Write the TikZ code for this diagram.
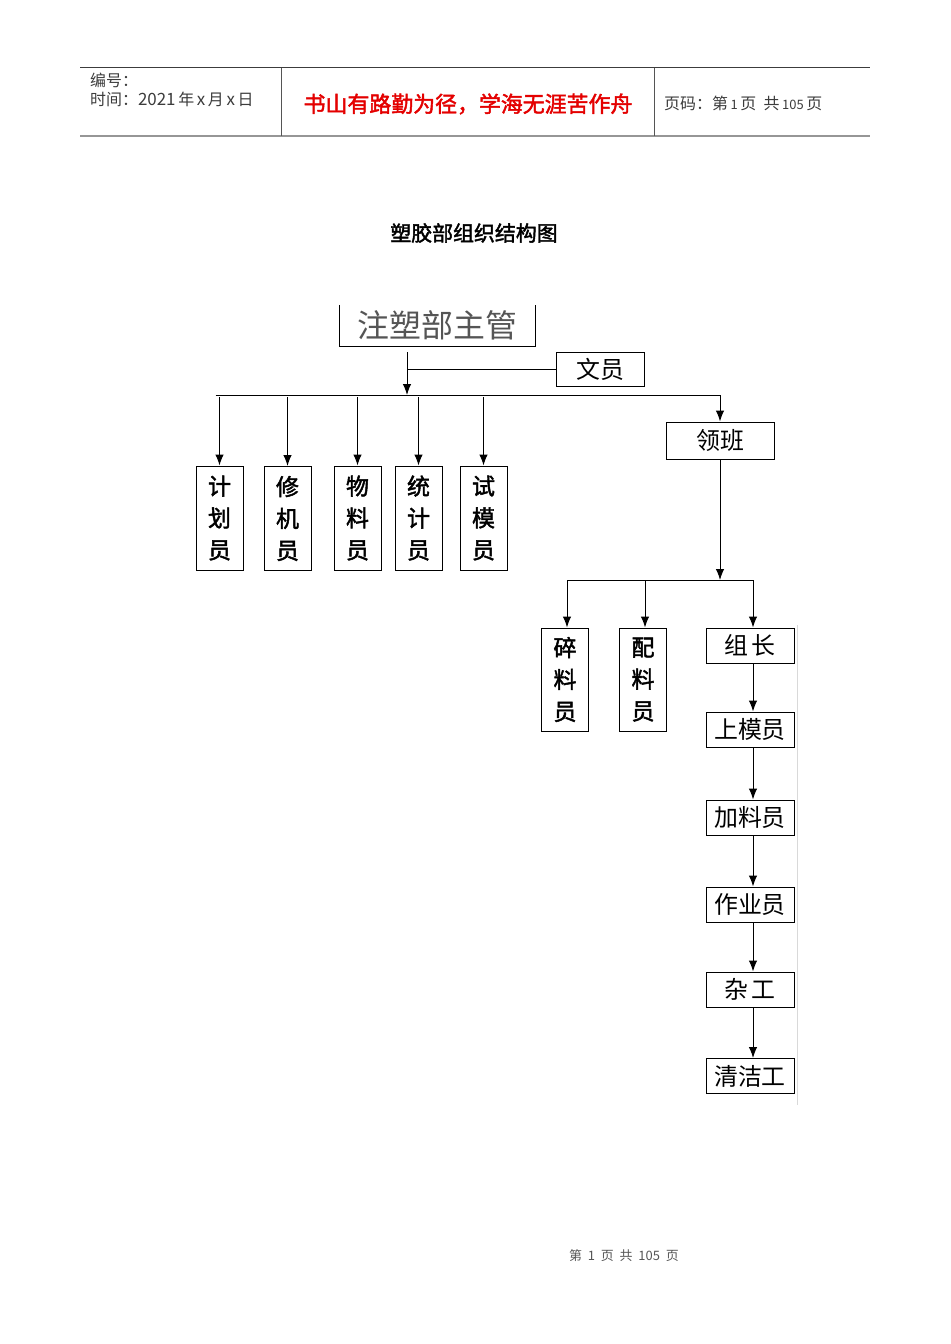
\documentclass[tikz,border=0pt]{standalone}
\usepackage{fontspec}
\setmainfont{Liberation Sans}
\newfontfamily\cjk[AutoFakeBold=2]{Noto Sans CJK SC}
\usetikzlibrary{arrows.meta,positioning}

\definecolor{hdrgray}{RGB}{60,60,60}
\definecolor{rulegray}{RGB}{150,150,150}
\definecolor{mottored}{RGB}{228,0,0}
\definecolor{headgray}{RGB}{85,85,85}

\tikzset{
	box/.style={draw,line width=1bp,inner sep=0pt,font=\cjk\fontsize{24}{26}\selectfont},
	vbox/.style={box,minimum width=47bp,minimum height=104bp,align=center,
		font=\cjk\bfseries\fontsize{23}{32}\selectfont},
	hbox/.style={box,minimum width=88bp,minimum height=35bp},
	arr/.style={-{Latex[length=11bp,width=8.5bp]},line width=1bp},
	hdr/.style={inner sep=0pt,text=hdrgray,font=\cjk\fontsize{16}{19}\selectfont},
}

\begin{document}
\begin{tikzpicture}[x=1bp,y=-1bp]
	\useasboundingbox[fill=white] (0,0) rectangle (950,1344);

	% header
	\draw[line width=1bp,hdrgray] (80,68) -- (870,68);
	\draw[line width=2bp,rulegray] (80,136) -- (870,136);
	\draw[line width=0.8bp,headgray] (281,68) -- (281,136);
	\draw[line width=0.8bp,headgray] (654,68) -- (654,136);
	\node[hdr,anchor=west] (bianhao) at (90,80) {编号：};
	\node[hdr,anchor=west] (shijian) at (90,99) {时间：{\fontsize{17}{19}\selectfont 2021}\,年\,{\fontsize{17}{19}\selectfont x}\,月\,{\fontsize{17}{19}\selectfont x}\,日};
	\node[inner sep=0pt,text=mottored,font=\cjk\bfseries\fontsize{22}{24}\selectfont] (motto) at (468,104) {书山有路勤为径，学海无涯苦作舟};
	\node[hdr,anchor=west] (yema) at (664,103) {页码：第\,{\fontsize{13}{14}\selectfont 1}\,页\ \ 共\,{\fontsize{13}{14}\selectfont 105}\,页};

	% title
	\node[inner sep=0pt,font=\cjk\bfseries\fontsize{21}{24}\selectfont] (title) at (474,233) {塑胶部组织结构图};

	% top level
	\node[inner sep=0pt,minimum width=195bp,minimum height=41bp,text=headgray,
		font=\cjk\fontsize{32}{34}\selectfont] (zhuguan) at (437.5,325.5) {注塑部主管};
	\draw[line width=1bp] (zhuguan.north west) -- (zhuguan.south west) -- (zhuguan.south east) -- (zhuguan.north east);
	\node[box,minimum width=88bp,minimum height=34bp] (wenyuan) at (600,369) {文员};
	\node[box,minimum width=108bp,minimum height=37bp] (lingban) at (720,440.5) {领班};

	% staff under the head
	\node[vbox] (jihua) at (219.5,518) {计\\划\\员};
	\node[vbox] (xiuji) at (287.5,518.5) {修\\机\\员};
	\node[vbox] (wuliao) at (357.5,518) {物\\料\\员};
	\node[vbox] (tongji) at (418.5,518) {统\\计\\员};
	\node[vbox] (shimo) at (483.5,518) {试\\模\\员};

	% staff under the foreman
	\node[vbox,minimum height=103bp] (suiliao) at (565,679.5) {碎\\料\\员};
	\node[vbox,minimum height=103bp] (peiliao) at (643,679.5) {配\\料\\员};
	\node[hbox] (zuzhang) at (750,645.5) {组\,长};
	\node[hbox] (shangmo) at (750,729.5) {上模员};
	\node[hbox] (jialiao) at (750,817.5) {加料员};
	\node[hbox] (zuoye) at (750,904.5) {作业员};
	\node[hbox] (zagong) at (750,989.5) {杂\,工};
	\node[hbox] (qingjie) at (750,1076) {清洁工};

	% connectors
	\coordinate (drop) at (407,352);
	\coordinate (bus1) at (407,395);
	\coordinate (bus2) at (720,580);
	\draw[line width=1bp] (wenyuan.west) -- (drop |- wenyuan.west);
	\draw[arr] (drop) -- (bus1);
	\draw[line width=1bp] ([xshift=-4bp]jihua.north |- bus1) -- (lingban.north |- bus1);
	\draw[arr] (lingban.north |- bus1) -- (lingban.north);
	\foreach \n in {jihua,xiuji,wuliao,tongji,shimo}
		\draw[arr] ([yshift=-2bp]\n.north |- bus1) -- (\n.north);
	\draw[arr] (lingban.south) -- (bus2);
	\draw[line width=1bp] ([xshift=2bp]suiliao.north |- bus2) -- ([xshift=3bp]zuzhang.north |- bus2);
	\draw[arr] ([xshift=2bp]suiliao.north |- bus2) -- ([xshift=2bp]suiliao.north);
	\draw[arr] ([xshift=2bp]peiliao.north |- bus2) -- ([xshift=2bp]peiliao.north);
	\draw[arr] ([xshift=3bp]zuzhang.north |- bus2) -- ([xshift=3bp]zuzhang.north);
	\foreach \a/\b in {zuzhang/shangmo,shangmo/jialiao,jialiao/zuoye,zuoye/zagong,zagong/qingjie}
		\draw[arr] ([xshift=3bp]\a.south) -- ([xshift=3bp]\b.north);
	\draw[line width=1bp,black!15] (797,625) -- (797,1105);

	% footer
	\node[inner sep=0pt,text=headgray,font=\cjk\fontsize{13}{15}\selectfont] (footer) at (624,1256) {第\ \ 1\ \ 页\ \ 共\ \ 105\ \ 页};
\end{tikzpicture}
\end{document}
